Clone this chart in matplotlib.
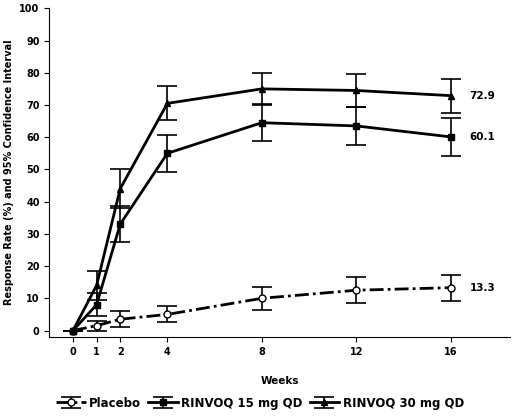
import matplotlib
matplotlib.use("Agg")
import matplotlib.pyplot as plt

weeks = [0, 1, 2, 4, 8, 12, 16]
placebo = [0, 1.5, 3.5, 5.0, 10.0, 12.5, 13.3]
placebo_err = [0, 1.5, 2.5, 2.5, 3.5, 4.0, 4.0]
r15 = [0, 8.0, 33.0, 55.0, 64.5, 63.5, 60.1]
r15_err = [0, 3.5, 5.5, 5.8, 5.8, 5.8, 5.8]
r30 = [0, 14.0, 44.0, 70.5, 75.0, 74.5, 72.9]
r30_err = [0, 4.5, 6.0, 5.3, 5.0, 5.0, 5.3]
labels = ["Placebo", "RINVOQ 15 mg QD", "RINVOQ 30 mg QD"]

fig = plt.figure(figsize=(5.2, 4.16), dpi=100)
ax = fig.add_axes([0.095, 0.19, 0.885, 0.79])
kw = dict(color="black", capsize=7, elinewidth=1.2, capthick=1.2, lw=2.0, markersize=5)
ax.errorbar(weeks, placebo, yerr=placebo_err, fmt="o", ls=(0, (5, 1.5, 1, 1.5)),
            mfc="white", label=labels[0], **kw)
ax.errorbar(weeks, r15, yerr=r15_err, fmt="s-", label=labels[1], **kw)
ax.errorbar(weeks, r30, yerr=r30_err, fmt="^-", label=labels[2], **kw)
for v in (placebo[-1], r15[-1], r30[-1]):
    ax.text(16.8, v, f"{v:.1f}", va="center", fontsize=7.5, fontweight="bold")
ax.set_xlim(-1, 18.5)
ax.set_ylim(-2, 100)
ax.set_xticks(weeks)
ax.set_yticks(range(0, 101, 10))
ax.tick_params(labelsize=7)
for t in ax.get_xticklabels() + ax.get_yticklabels():
    t.set_fontweight("bold")
ax.spines["top"].set_visible(False)
ax.spines["right"].set_visible(False)
ax.set_xlabel("Weeks", fontsize=7.5, fontweight="bold", labelpad=14)
ax.set_ylabel("Response Rate (%) and 95% Confidence Interval", fontsize=7, fontweight="bold")
fig.legend(loc="lower center", ncol=3, frameon=False, bbox_to_anchor=(0.5, -0.01),
           prop={"weight": "bold", "size": 8.5}, handlelength=2.5, columnspacing=0.6,
           handletextpad=0.3)
fig.savefig("out.png", dpi=100)
